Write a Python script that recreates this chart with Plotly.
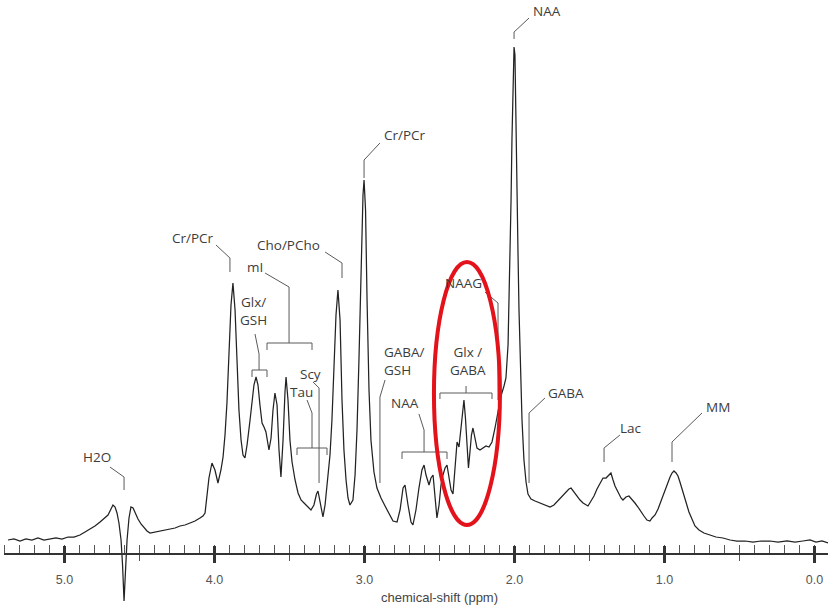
import plotly.graph_objects as go

# ---- spectrum (chemical shift in ppm, intensity in arbitrary units) ----
ppm = [5.377, 5.337, 5.297, 5.257, 5.217, 5.177, 5.137, 5.097, 5.057, 5.017,
       4.977, 4.937, 4.897, 4.863, 4.830, 4.797, 4.763, 4.737, 4.710, 4.690,
       4.677, 4.663, 4.650, 4.637, 4.623, 4.613, 4.603, 4.593, 4.583, 4.570,
       4.557, 4.543, 4.530, 4.510, 4.490, 4.470, 4.450, 4.430, 4.397, 4.363,
       4.330, 4.297, 4.263, 4.230, 4.197, 4.163, 4.130, 4.097, 4.077, 4.063,
       4.050, 4.037, 4.017, 3.997, 3.977, 3.957, 3.943, 3.930, 3.917, 3.903,
       3.890, 3.877, 3.863, 3.850, 3.837, 3.823, 3.810, 3.797, 3.783, 3.763,
       3.750, 3.737, 3.723, 3.710, 3.697, 3.683, 3.670, 3.657, 3.637, 3.623,
       3.610, 3.597, 3.583, 3.570, 3.557, 3.543, 3.530, 3.523, 3.510, 3.497,
       3.483, 3.463, 3.443, 3.423, 3.403, 3.377, 3.357, 3.337, 3.320, 3.310,
       3.297, 3.277, 3.263, 3.250, 3.230, 3.217, 3.203, 3.190, 3.177, 3.163,
       3.150, 3.137, 3.123, 3.110, 3.097, 3.077, 3.063, 3.050, 3.037, 3.023,
       3.010, 3.003, 2.993, 2.983, 2.970, 2.957, 2.937, 2.917, 2.890, 2.863,
       2.837, 2.810, 2.783, 2.763, 2.743, 2.730, 2.710, 2.690, 2.677, 2.657,
       2.637, 2.617, 2.603, 2.590, 2.570, 2.557, 2.543, 2.530, 2.517, 2.503,
       2.490, 2.477, 2.463, 2.450, 2.437, 2.423, 2.410, 2.397, 2.383, 2.370,
       2.357, 2.343, 2.337, 2.327, 2.317, 2.307, 2.297, 2.287, 2.277, 2.263,
       2.250, 2.230, 2.210, 2.190, 2.170, 2.150, 2.130, 2.110, 2.090, 2.070,
       2.057, 2.043, 2.037, 2.030, 2.023, 2.017, 2.010, 2.003, 1.997, 1.990,
       1.983, 1.977, 1.970, 1.963, 1.950, 1.937, 1.923, 1.910, 1.890, 1.863,
       1.830, 1.797, 1.763, 1.737, 1.717, 1.697, 1.677, 1.657, 1.637, 1.623,
       1.603, 1.583, 1.563, 1.543, 1.523, 1.510, 1.490, 1.470, 1.450, 1.430,
       1.410, 1.390, 1.377, 1.357, 1.343, 1.330, 1.310, 1.290, 1.277, 1.257,
       1.237, 1.217, 1.197, 1.177, 1.157, 1.137, 1.117, 1.097, 1.083, 1.063,
       1.043, 1.023, 1.003, 0.983, 0.963, 0.950, 0.937, 0.923, 0.910, 0.897,
       0.877, 0.857, 0.837, 0.817, 0.797, 0.770, 0.737, 0.697, 0.657, 0.610,
       0.563, 0.517, 0.463, 0.410, 0.357, 0.297, 0.243, 0.183, 0.130, 0.077,
       0.030, -0.010, -0.050, -0.090]

intensity = [14, 15, 13, 15, 14, 16, 14, 15, 16, 15,
             17, 17, 19, 22, 25, 28, 32, 35, 39, 45,
             49, 47, 41, 31, 14, -11, -47, -16, 14, 36,
             47, 46, 41, 35, 30, 26, 23, 21, 22, 23,
             24, 25, 26, 28, 29, 31, 33, 36, 38, 41,
             59, 76, 91, 84, 71, 84, 97, 119, 151, 204,
             249, 271, 244, 194, 144, 114, 99, 96, 109, 134,
             154, 169, 177, 169, 149, 131, 127, 122, 104, 116,
             144, 161, 149, 104, 77, 114, 162, 177, 154, 114,
             92, 74, 61, 54, 51, 47, 44, 49, 60, 63,
             54, 37, 49, 71, 99, 134, 184, 239, 264, 234,
             154, 104, 74, 56, 49, 54, 79, 124, 194, 284,
             359, 374, 344, 254, 164, 114, 82, 66, 56, 48,
             40, 33, 32, 44, 66, 69, 49, 32, 29, 44,
             66, 84, 89, 79, 69, 76, 79, 59, 36, 49,
             69, 79, 86, 89, 76, 64, 60, 89, 112, 107,
             126, 146, 154, 136, 109, 86, 102, 119, 126, 114,
             106, 104, 106, 108, 107, 112, 126, 142, 158, 168,
             176, 209, 244, 294, 354, 414, 474, 507, 499, 444,
             374, 304, 244, 194, 134, 94, 72, 60, 55, 53,
             51, 49, 47, 49, 52, 56, 59, 62, 65, 66,
             62, 57, 54, 51, 49, 48, 53, 58, 65, 71,
             76, 76, 78, 81, 74, 68, 62, 56, 54, 57,
             58, 55, 51, 47, 42, 38, 34, 33, 36, 39,
             45, 53, 62, 70, 77, 81, 83, 81, 78, 72,
             63, 52, 42, 34, 28, 24, 21, 19, 17, 16,
             14, 13, 13, 12, 13, 13, 12, 13, 12, 13,
             14, 12, 13, 11]

# ---- metabolite labels ----
label_text = ["H2O", "Cr/PCr", "Cho/PCho", "mI", "Glx/<br>GSH", "Scy", "Tau",
              "Cr/PCr", "NAA", "NAAG", "Glx /<br>GABA", "NAA", "GABA", "Lac", "MM"]
label_ppm = [4.783, 4.143, 3.510, 3.730, 3.743, 3.363, 3.417,
             2.730, 2.730, 2.343, 2.310, 1.783, 1.657, 1.223, 0.643]
label_int = [97, 316, 309, 287, 243, 180, 162,
             419, 151, 271, 193, 543, 161, 126, 147]

# GABA/GSH label is left-aligned
gaba_gsh_text = "GABA/<br>GSH"
gaba_gsh_ppm = 2.883
gaba_gsh_int = 193

# ---- leader lines and brackets (ppm, intensity) ----
leaders = [
    [(4.697, 87), (4.603, 77), (4.603, 64)],                        # H2O
    [(3.990, 309), (3.897, 296), (3.897, 282)],                     # Cr/PCr 3.9
    [(3.263, 302), (3.150, 291), (3.150, 276)],                     # Cho
    [(3.663, 281), (3.503, 267), (3.503, 211)],                     # mI
    [(3.650, 204), (3.650, 211), (3.350, 211), (3.350, 204)],       # mI bracket
    [(3.730, 220), (3.703, 200), (3.703, 184)],                     # Glx/GSH
    [(3.750, 177), (3.750, 184), (3.650, 184), (3.650, 177)],       # Glx/GSH bracket
    [(3.343, 172), (3.303, 166), (3.303, 71)],                      # Scy
    [(3.383, 154), (3.350, 141), (3.350, 106)],                     # Tau
    [(3.450, 99), (3.450, 106), (3.250, 106), (3.250, 99)],         # Tau bracket
    [(2.897, 411), (3.003, 394), (3.003, 376)],                     # Cr/PCr 3.0
    [(2.863, 174), (2.897, 157), (2.897, 71)],                      # GABA/GSH
    [(2.637, 140), (2.603, 124), (2.603, 102)],                     # NAA 2.6
    [(2.750, 95), (2.750, 102), (2.450, 102), (2.450, 95)],         # NAA bracket
    [(2.197, 262), (2.110, 251), (2.110, 154)],                     # NAAG
    [(2.323, 168), (2.323, 161)],                                   # Glx/GABA
    [(2.497, 155), (2.497, 161), (2.150, 161), (2.150, 155)],       # Glx/GABA bracket
    [(1.903, 536), (2.003, 522), (2.003, 515)],                     # NAA 2.0
    [(1.797, 156), (1.903, 141), (1.903, 71)],                      # GABA 1.9
    [(1.297, 119), (1.403, 106), (1.403, 92)],                      # Lac
    [(0.750, 141), (0.950, 112), (0.950, 92)],                      # MM
]

# highlighted region (red ellipse)
ellipse_ppm = (2.537, 2.097)
ellipse_int = (29, 292)

major_ticks = [0, 1, 2, 3, 4, 5]
medium_ticks = [0.5, 1.5, 2.5, 3.5, 4.5]

X_RANGE = [5.4033, -0.09]
Y_RANGE = [-54, 554]
AXIS_POS = 54 / 608

lx, ly = [], []
for seg in leaders:
    for p, v in seg:
        lx.append(p)
        ly.append(v)
    lx.append(None)
    ly.append(None)

fig = go.Figure()
fig.add_trace(go.Scatter(x=lx, y=ly, mode="lines",
                         line=dict(color="#5a5a5a", width=1),
                         hoverinfo="skip", showlegend=False))
fig.add_trace(go.Scatter(x=ppm, y=intensity, mode="lines",
                         line=dict(color="#222222", width=1.25),
                         showlegend=False))
# helper traces so the overlay tick axes are drawn
for ax in ["x2", "x3"]:
    fig.add_trace(go.Scatter(x=ppm, y=intensity, xaxis=ax, mode="lines",
                             opacity=0, line=dict(width=0),
                             hoverinfo="skip", showlegend=False))

lab_font = dict(family="Open Sans, Noto Sans, sans-serif", size=13.5, color="#3c3c3c")
for t, p, v in zip(label_text, label_ppm, label_int):
    fig.add_annotation(x=p, y=v, xref="x", yref="y", text=t, showarrow=False,
                       font=lab_font, xanchor="center", yanchor="middle",
                       align="center")
fig.add_annotation(x=gaba_gsh_ppm, y=gaba_gsh_int, xref="x", yref="y",
                   text=gaba_gsh_text, showarrow=False, font=lab_font,
                   xanchor="left", yanchor="middle", align="left")
fig.add_annotation(x=2.5, y=-43, xref="x", yref="y",
                   text="chemical-shift (ppm)", showarrow=False,
                   font=dict(family="Liberation Sans Narrow, Arial Narrow, Liberation Sans, Arial, sans-serif",
                             size=13, color="#444"),
                   xanchor="center", yanchor="middle")

fig.add_shape(type="circle", xref="x", yref="y",
              x0=ellipse_ppm[0], x1=ellipse_ppm[1],
              y0=ellipse_int[0], y1=ellipse_int[1],
              line=dict(color="#e3121b", width=4), layer="above")

common = dict(range=X_RANGE, autorange=False, anchor="free", position=AXIS_POS,
              showgrid=False, zeroline=False, automargin=False)
fig.update_layout(
    width=831, height=608,
    margin=dict(l=4, r=3, t=0, b=0),
    paper_bgcolor="white", plot_bgcolor="white",
    showlegend=False,
    xaxis=dict(**common, showline=True, linecolor="#333", linewidth=1.5,
               tickmode="array", tickvals=major_ticks,
               ticktext=[f"{v:.1f}" for v in major_ticks],
               ticks="outside", ticklen=8, tickwidth=2.5, tickcolor="#333",
               ticklabelstandoff=6,
               tickfont=dict(family="Liberation Sans, Arial, sans-serif",
                             size=12.5, color="#555"),
               minor=dict(tickmode="linear", tick0=0, dtick=0.1, ticks="inside",
                          ticklen=8, tickwidth=1, tickcolor="#555")),
    xaxis2=dict(**common, overlaying="x", showline=False,
                tickmode="array", tickvals=major_ticks, ticks="inside",
                ticklen=8, tickwidth=2.5, tickcolor="#333",
                showticklabels=False),
    xaxis3=dict(**common, overlaying="x", showline=False,
                tickmode="array", tickvals=medium_ticks, ticks="outside",
                ticklen=6, tickwidth=1, tickcolor="#555",
                showticklabels=False),
    yaxis=dict(range=Y_RANGE, autorange=False, visible=False,
               showgrid=False, zeroline=False, automargin=False),
)

fig.write_html("out.html",
               config={"displayModeBar": False},
               post_script="document.body.style.margin='0px';"
                           "document.body.style.overflow='hidden';")
